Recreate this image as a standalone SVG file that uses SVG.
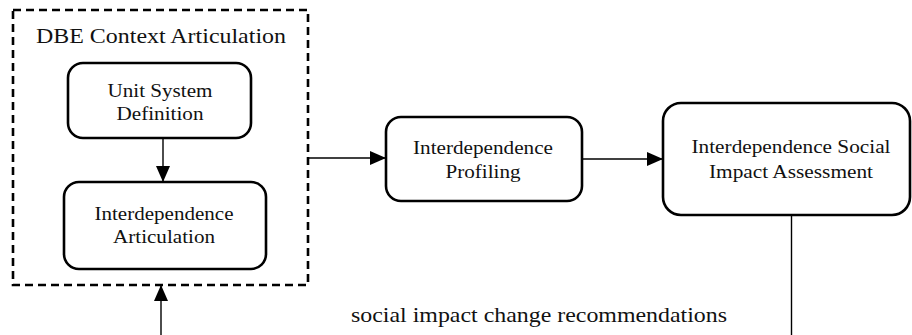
<svg xmlns="http://www.w3.org/2000/svg" width="912" height="335" viewBox="0 0 912 335">
<style>
.box{fill:#fff;stroke:#000;stroke-width:2.6}
.frame{fill:none;stroke:#000;stroke-width:2.6;stroke-dasharray:8 5}
.t{font-family:'Liberation Serif','Times New Roman',serif;font-size:18.5px;fill:#111;text-anchor:middle}
.big{font-family:'Liberation Serif','Times New Roman',serif;font-size:22px;fill:#111}
.c{fill:none;stroke:#000;stroke-width:1.4}
</style>
<defs>
<marker id="ah" markerUnits="userSpaceOnUse" markerWidth="16" markerHeight="14" refX="16" refY="7" orient="auto">
<path d="M0,0 L16,7 L0,14 z" fill="#000"/>
</marker>
</defs>
<rect x="0" y="0" width="912" height="335" fill="#fff"/>
<g id="dbe-context">
<rect class="frame" x="13" y="10" width="295" height="275"/>
<text class="big" x="36" y="43" textLength="250" lengthAdjust="spacingAndGlyphs">DBE Context Articulation</text>
</g>
<g id="unit-system">
<rect class="box" x="68" y="63" width="183" height="75" rx="15"/>
<text class="t" x="160" y="97" textLength="105" lengthAdjust="spacingAndGlyphs">Unit System</text>
<text class="t" x="160" y="120" textLength="87" lengthAdjust="spacingAndGlyphs">Definition</text>
</g>
<g id="interdependence-articulation">
<rect class="box" x="64" y="182" width="202" height="87" rx="15"/>
<text class="t" x="164" y="220" textLength="139" lengthAdjust="spacingAndGlyphs">Interdependence</text>
<text class="t" x="164" y="243" textLength="102" lengthAdjust="spacingAndGlyphs">Articulation</text>
</g>
<g id="interdependence-profiling">
<rect class="box" x="386" y="117" width="196" height="84" rx="15"/>
<text class="t" x="483" y="154" textLength="140" lengthAdjust="spacingAndGlyphs">Interdependence</text>
<text class="t" x="483" y="178" textLength="75" lengthAdjust="spacingAndGlyphs">Profiling</text>
</g>
<g id="isia">
<rect class="box" x="663" y="103" width="247" height="112" rx="18"/>
<text class="t" x="791" y="153" textLength="199" lengthAdjust="spacingAndGlyphs">Interdependence Social</text>
<text class="t" x="791" y="178" textLength="164" lengthAdjust="spacingAndGlyphs">Impact Assessment</text>
</g>
<g id="connectors">
<line class="c" x1="163" y1="138" x2="163" y2="182" marker-end="url(#ah)"/>
<line class="c" x1="308" y1="158" x2="386" y2="158" marker-end="url(#ah)"/>
<line class="c" x1="582" y1="159" x2="663" y2="159" marker-end="url(#ah)"/>
<line class="c" x1="791.5" y1="215" x2="791.5" y2="335"/>
<line class="c" x1="161" y1="335" x2="161" y2="285" marker-end="url(#ah)"/>
<text class="big" x="351" y="322" textLength="376" lengthAdjust="spacingAndGlyphs">social impact change recommendations</text>
</g>
</svg>
